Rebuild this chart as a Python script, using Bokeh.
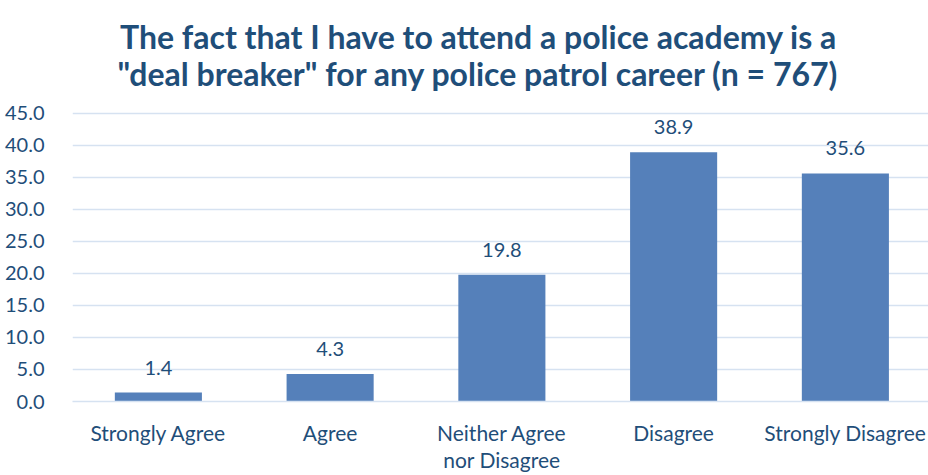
from bokeh.plotting import figure
from bokeh.models import ColumnDataSource, Label, FixedTicker, Range1d, CustomJSTickFormatter
from bokeh.core.properties import value
from bokeh.embed import file_html
from bokeh.resources import INLINE

categories = ["Strongly Agree", "Agree", "Neither Agree\nnor Disagree", "Disagree", "Strongly Disagree"]
percents = [1.4, 4.3, 19.8, 38.9, 35.6]
y_ticks = [0, 5, 10, 15, 20, 25, 30, 35, 40, 45]
title_lines = ["The fact that I have to attend a police academy is a",
               "\"deal breaker\" for any police patrol career (n = 767)"]

FONT = "Lato"
TXT = "#1f4e79"
BAR = "#5580ba"
GRID = "#d6e2f1"

# layout (pixels)
FRAME_BOTTOM = 402      # y of the 0 line from top of figure
FRAME_TOP_45 = 113      # y of the 45 line from top of figure
Y_MAX = 45
y_end = Y_MAX * FRAME_BOTTOM / (FRAME_BOTTOM - FRAME_TOP_45)

xs = list(range(len(categories)))
src = ColumnDataSource(dict(x=xs, top=percents, lab=[f"{v:.1f}" for v in percents]))

p = figure(width=928, height=475, output_backend="svg", toolbar_location=None,
           x_range=Range1d(-0.5, 4.484), y_range=Range1d(0, y_end),
           min_border_left=72, min_border_right=0, min_border_top=0, min_border_bottom=10)
p.title = None
p.outline_line_color = None
p.background_fill_color = "white"

# title lines, placed in screen units relative to the frame (y measured up from the 0 line)
baselines_from_top = [37, 74]
for line, b in zip(title_lines, baselines_from_top):
    p.add_layout(Label(x=406, y=FRAME_BOTTOM - b, x_units="screen", y_units="screen",
                       text=line, text_align="center", text_baseline="alphabetic",
                       text_font=FONT, text_font_size="32px", text_font_style="bold",
                       text_color=TXT))

p.vbar(x="x", top="top", width=0.507, source=src, fill_color=BAR, line_color=None)
p.text(x="x", y="top", text="lab", source=src, y_offset=-25, text_align="center",
       text_baseline="middle", text_font=value(FONT), text_font_size="20px", text_color=TXT)

p.yaxis.ticker = FixedTicker(ticks=y_ticks)
p.yaxis.formatter = CustomJSTickFormatter(code="return tick.toFixed(1);")
p.yaxis.axis_line_color = None
p.yaxis.major_tick_line_color = None
p.yaxis.minor_tick_line_color = None
p.yaxis.major_label_standoff = 22
p.yaxis.major_label_text_font = FONT
p.yaxis.major_label_text_font_size = "20px"
p.yaxis.major_label_text_color = TXT

p.xaxis.ticker = FixedTicker(ticks=xs)
p.xaxis.major_label_overrides = {i: c for i, c in enumerate(categories)}
p.xaxis.axis_line_color = GRID
p.xaxis.axis_line_width = 1.5
p.xaxis.major_tick_line_color = None
p.xaxis.minor_tick_line_color = None
p.xaxis.major_label_standoff = 12
p.xaxis.major_label_text_font = FONT
p.xaxis.major_label_text_font_size = "21px"
p.xaxis.major_label_text_line_height = 1.1
p.xaxis.major_label_text_color = TXT
p.xgrid.grid_line_color = None
p.ygrid.grid_line_color = GRID
p.ygrid.grid_line_width = 1.5

open("out.html", "w").write(file_html(p, INLINE))
